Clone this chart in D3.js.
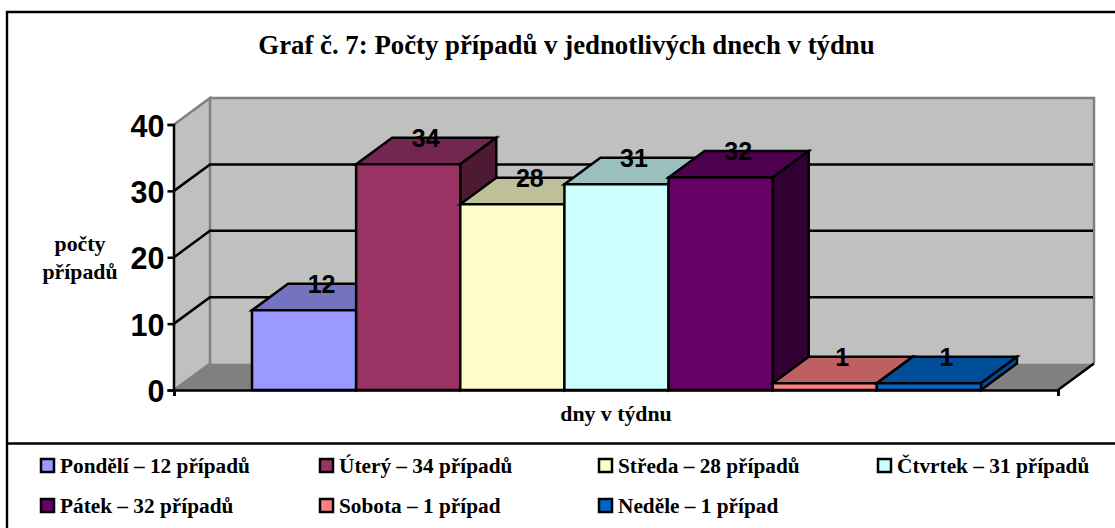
<!DOCTYPE html>
<html><head><meta charset="utf-8">
<script src="https://cdn.jsdelivr.net/npm/d3@7/dist/d3.min.js"></script>
<style>
html,body{margin:0;padding:0;background:#fff;overflow:hidden}
text{font-family:"Liberation Serif",serif;font-weight:bold;fill:#000}
.sans{font-family:"Liberation Sans",sans-serif}
</style></head><body>
<svg id="c" width="1115" height="528"></svg>
<script>
const days=["Pondělí","Úterý","Středa","Čtvrtek","Pátek","Sobota","Neděle"];
const cases=[12,34,28,31,32,1,1];
const front=["#9999FF","#993366","#FFFFCC","#CCFFFF","#660066","#FF8080","#0066CC"];
const topFace=["#7373BF","#732650","#BFBF99","#99BFBF","#4D004D","#BF6060","#004D99"];
const sideFace=["#4D4D80","#4D1933","#808066","#668080","#330033","#804040","#004C99"];
const legendLabels=["Pondělí – 12 případů","Úterý – 34 případů","Středa – 28 případů","Čtvrtek – 31 případů","Pátek – 32 případů","Sobota – 1 případ","Neděle – 1 případ"];
const yTicks=[0,10,20,30,40];
const titleText="Graf č. 7: Počty případů v jednotlivých dnech v týdnu";

const svg=d3.select("#c");
const depthX=36,depthY=-26.5,lw=2.5;
const y=d3.scaleLinear().domain([0,40]).range([390,124.5]);
const xPlot=d3.scaleLinear().domain([0,1]).range([174,1058]);
const x=d3.scaleBand().domain(days).range([252,981]);
const poly=(pts,fill,stroke,sw)=>svg.append("path").attr("d",d3.line()(pts)+"Z").attr("fill",fill).attr("stroke",stroke||"none").attr("stroke-width",sw||0).attr("stroke-linejoin","miter");

// frame
const frame=svg.append("g").attr("fill","none").attr("stroke","#000").attr("stroke-width",2.4);
frame.append("path").attr("d",d3.line()([[7,528],[7,12],[1115,12]]));
frame.append("path").attr("d",d3.line()([[7,443.5],[1115,443.5]]));

// title
svg.append("text").attr("x",566.5).attr("y",54).attr("text-anchor","middle").style("font-size","26.8px").text(titleText);

// walls and floor
const x0=xPlot(0),x1=xPlot(1),y0=y(0),y4=y(40);
poly([[x0,y0],[x0,y4],[x0+depthX,y4+depthY],[x0+depthX,y0+depthY]],"#C0C0C0");
poly([[x0+depthX,y0+depthY],[x0+depthX,y4+depthY],[x1+depthX,y4+depthY],[x1+depthX,y0+depthY]],"#C0C0C0");
poly([[x0,y0],[x0+depthX,y0+depthY],[x1+depthX,y0+depthY],[x1,y0]],"#808080");

// wall edges
const edge=d3.line();
svg.append("path").attr("d",edge([[x0,y0],[x0+depthX,y0+depthY],[x0+depthX,y4+depthY],[x0,y4]])).attr("fill","none").attr("stroke","#808080").attr("stroke-width",2.5);
svg.append("path").attr("d",edge([[x0+depthX,y4+depthY],[x1+depthX,y4+depthY],[x1+depthX,y0+depthY]])).attr("fill","none").attr("stroke","#808080").attr("stroke-width",2.5);

// gridlines
yTicks.filter(t=>t>0&&t<40).forEach(t=>{
  svg.append("path").attr("d",edge([[x0,y(t)],[x0+depthX,y(t)+depthY],[x1+depthX-1,y(t)+depthY]])).attr("fill","none").attr("stroke","#000").attr("stroke-width",lw);
});

// floor front edge
svg.append("path").attr("d",edge([[x1,y0],[x1+depthX,y0+depthY]])).attr("fill","none").attr("stroke","#000").attr("stroke-width",lw);

// bars
days.forEach((d,i)=>{
  const l=x(d),r=l+x.bandwidth(),t=y(cases[i]);
  poly([[l,t],[l+depthX,t+depthY],[r+depthX,t+depthY],[r,t]],topFace[i],"#000",lw);
  poly([[r,t],[r+depthX,t+depthY],[r+depthX,y0+depthY],[r,y0]],sideFace[i],"#000",lw);
  poly([[l,t],[r,t],[r,y0],[l,y0]],front[i],"#000",lw);
});

// axes
const yAxis=svg.append("g").attr("transform",`translate(${x0-0.5},0)`).call(d3.axisLeft(y).tickValues(yTicks).tickSize(6).tickPadding(3));
yAxis.selectAll("path,line").attr("stroke","#000").attr("stroke-width",lw);
yAxis.selectAll("text").attr("class","sans").style("font-size","30.5px").attr("dy","0.38em");
const xAxis=svg.append("g").attr("transform",`translate(0,${y0})`).call(d3.axisBottom(xPlot).tickValues([0,1]).tickSize(6).tickFormat(""));
xAxis.selectAll("path,line").attr("stroke","#000").attr("stroke-width",lw);

// value labels
days.forEach((d,i)=>{
  svg.append("text").attr("class","sans").attr("text-anchor","middle")
    .attr("x",x(d)+x.bandwidth()/2+depthX/2-0.5).attr("y",y(cases[i])+depthY+9)
    .style("font-size","25px").text(cases[i]);
});

// axis titles
svg.append("text").attr("x",616).attr("y",421).attr("text-anchor","middle").style("font-size","21.8px").text("dny v týdnu");
svg.append("text").attr("x",80).attr("y",251).attr("text-anchor","middle").style("font-size","21.8px").text("počty");
svg.append("text").attr("x",80).attr("y",279).attr("text-anchor","middle").style("font-size","21.8px").text("případů");

// legend
const legendX=[41,320,599,878],legendY=[466,506];
legendLabels.forEach((s,i)=>{
  const col=i%4,row=Math.floor(i/4);
  svg.append("rect").attr("x",legendX[col]).attr("y",legendY[row]-7).attr("width",13).attr("height",13).attr("fill",front[i]).attr("stroke","#000").attr("stroke-width",2.5);
  svg.append("text").attr("x",legendX[col]+19).attr("y",legendY[row]+7).style("font-size","21.3px").text(s);
});
</script></body></html>
